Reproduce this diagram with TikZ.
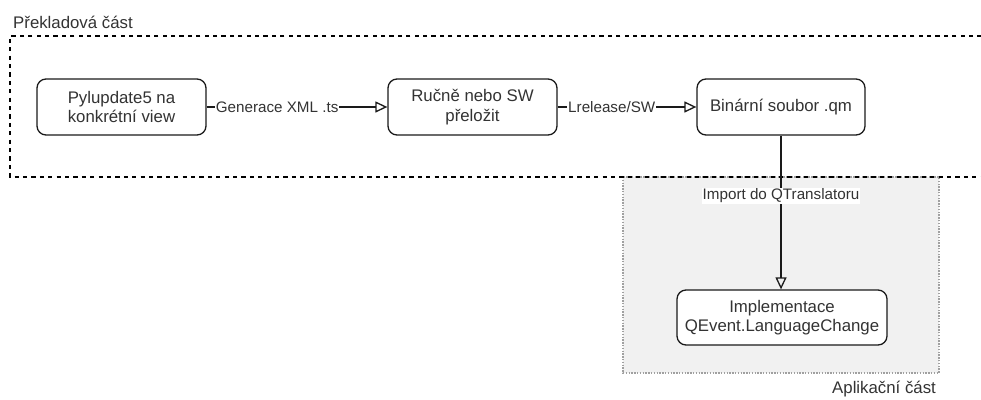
\documentclass[tikz,border=0pt]{standalone}
\usepackage{fontspec}
\setmainfont{Liberation Sans}
\usetikzlibrary{arrows.meta}
\definecolor{txt}{HTML}{333333}
\definecolor{stroke}{HTML}{1A1A1A}
\definecolor{zone}{HTML}{F1F1F1}
\definecolor{zoneedge}{HTML}{A0A0A0}
\tikzset{
  stepbox/.style={draw=stroke, line width=1.3pt, rounded corners=9pt, fill=white,
    text=txt, align=center, font=\fontsize{16.8}{19.5}\selectfont, inner sep=0pt},
  flow/.style={draw=stroke, line width=1.3pt,
    -{Triangle[open, length=12pt, width=11pt, line width=1.3pt]}},
  flowlabel/.style={fill=white, text=txt, font=\fontsize{15.2}{17}\selectfont,
    inner sep=1pt, pos=0.39},
  grouplabel/.style={text=txt, font=\fontsize{16.8}{19}\selectfont, inner sep=0pt}
}
\begin{document}
\begin{tikzpicture}[x=1pt, y=-1pt]
  \useasboundingbox (0,0) rectangle (981,399);

  % application zone (grey, dotted border)
  \fill[zone] (623,177) rectangle (939,373);
  \draw[zoneedge, line width=1.4pt, dash pattern=on 1.4pt off 1.4pt] (623,177) rectangle (939,373);
  \node[grouplabel, anchor=base west] (applbl) at (832,393) {Aplikační část};

  % translation zone (dashed border, running past the right edge)
  \draw[stroke, line width=1.3pt, dash pattern=on 4.2pt off 4.2pt]
    (990,36) -- (10,36) -- (10,177) -- (990,177);
  \node[grouplabel, anchor=base west] (trlbl) at (13,28) {Překladová část};

  % steps
  \node[stepbox, minimum width=169pt, minimum height=56pt] (pyl) at (121.5,107)
    {Pylupdate5 na\\konkrétní view};
  \node[stepbox, minimum width=169pt, minimum height=56pt] (man) at (472.5,107)
    {Ručně nebo SW\\přeložit};
  \node[stepbox, minimum width=168pt, minimum height=56pt] (qm) at (781,107)
    {Binární soubor .qm};
  \node[stepbox, minimum width=210pt, minimum height=55pt] (impl) at (782,317.5)
    {Implementace\\QEvent.LanguageChange};

  % connectors
  \draw[flow] (pyl) -- node[flowlabel] {Generace XML .ts} (man);
  \draw[flow] (man) -- node[flowlabel] {Lrelease/SW} (qm);
  \draw[flow] (qm.south) -- node[flowlabel] {Import do QTranslatoru} (qm.south |- impl.north);
\end{tikzpicture}
\end{document}
